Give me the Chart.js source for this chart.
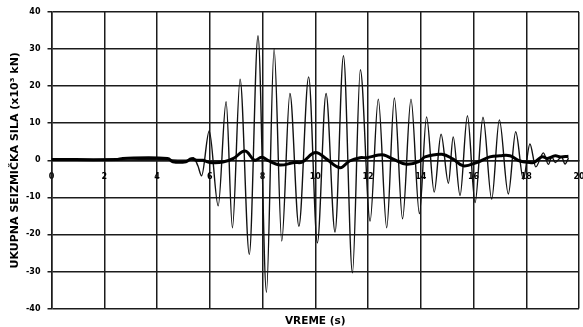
<!DOCTYPE html>
<html>
<head>
<meta charset="utf-8">
<script src="https://cdn.jsdelivr.net/npm/chart.js@4"></script>
<style>
  html,body{margin:0;padding:0;background:#fff;}
  #wrap{width:583px;height:327px;position:relative;}
</style>
</head>
<body>
<div id="wrap"><canvas id="c" width="583" height="327"></canvas></div>
<script>
// Time (s) and force (x10^3 kN) for the oscillating (thin) series
const timeThin = [0, 2, 4, 5.2, 5.38, 5.55, 5.69, 5.98, 6.32, 6.62, 6.86, 7.15, 7.5, 7.83, 8.15, 8.44, 8.73, 9.04, 9.38, 9.75, 10.08, 10.41, 10.75, 11.07, 11.41, 11.71, 12.08, 12.39, 12.71, 13.0, 13.31, 13.63, 13.95, 14.22, 14.51, 14.77, 15.05, 15.23, 15.49, 15.77, 16.06, 16.36, 16.69, 16.98, 17.32, 17.6, 17.89, 18.14, 18.36, 18.65, 18.84, 18.97, 19.1, 19.34, 19.47, 19.6];
const forceThin = [0, 0, 0.2, 0, 0.7, -1.5, -4.2, 7.9, -12.3, 15.8, -18.2, 21.9, -25.4, 33.6, -35.6, 30, -21.8, 18, -17.8, 22.5, -22.3, 18, -19.4, 28.2, -30.4, 24.4, -16.4, 16.5, -18.2, 16.8, -15.8, 16.5, -14.4, 11.7, -8.6, 7, -6.2, 6.3, -9.5, 12, -11.4, 11.6, -10.5, 10.9, -9.1, 7.7, -5.1, 4.4, -1.8, 2, -1.1, 0.9, -0.6, 0.9, -1, 0.6];

// Time (s) and force (x10^3 kN) for the smooth (thick) series
const timeThick = [0, 2.5, 2.7, 4.4, 4.6, 5.1, 5.3, 5.5, 5.75, 6.0, 6.5, 6.9, 7.34, 7.7, 7.97, 8.25, 8.66, 9.2, 9.5, 10.0, 10.43, 10.94, 11.3, 11.7, 11.95, 12.4, 12.6, 12.96, 13.47, 13.97, 14.16, 14.8, 15.23, 15.61, 16.12, 16.62, 17.0, 17.38, 17.76, 18.14, 18.3, 18.6, 18.8, 19.1, 19.3, 19.6];
const forceThick = [0.2, 0.2, 0.5, 0.5, -0.4, -0.4, 0.4, 0, 0, -0.6, -0.5, 0.5, 2.5, 0, 0.8, -0.2, -1.3, -0.6, -0.5, 2.1, 0.3, -2, -0.2, 0.7, 0.7, 1.4, 1.4, 0.3, -1.1, -0.2, 0.9, 1.6, 0.3, -1.5, -0.6, 0.9, 1.2, 1.2, -0.2, -0.6, -0.6, 0.9, 0.5, 1.2, 0.9, 1.1];

// Axis ticks
const xTicks = [0, 2, 4, 6, 8, 10, 12, 14, 16, 18, 20];
const yTicks = [-40, -30, -20, -10, 0, 10, 20, 30, 40];

const xTitle = 'VREME (s)';
const yTitle = 'UKUPNA SEIZMIČKA SILA (x10³ kN)';

const FONT = '"DejaVu Sans", Verdana, sans-serif';
const GRID = '#1c1c1c';

const toPts = (xs, ys) => xs.map((x, i) => ({x: x, y: ys[i]}));
const noSidePad = (s) => { s.paddingLeft = 0; s.paddingRight = 0; };

new Chart(document.getElementById('c'), {
  type: 'line',
  data: {
    datasets: [
      {
        data: toPts(timeThick, forceThick),
        borderColor: '#000',
        borderWidth: 3,
        pointRadius: 0,
        tension: 0.4,
        fill: false
      },
      {
        data: toPts(timeThin, forceThin),
        borderColor: '#111',
        borderWidth: 1.4,
        pointRadius: 0,
        cubicInterpolationMode: 'monotone',
        fill: false
      }
    ]
  },
  options: {
    responsive: false,
    animation: false,
    devicePixelRatio: 1,
    layout: {padding: {top: 12, right: 4, bottom: 0, left: 0}},
    plugins: {legend: {display: false}, tooltip: {enabled: false}},
    scales: {
      x: {
        type: 'linear',
        position: {y: 0},
        min: 0, max: 20,
        afterBuildTicks: (s) => { s.ticks = xTicks.map(v => ({value: v})); },
        afterFit: noSidePad,
        grid: {color: GRID, lineWidth: 1.5, drawTicks: false},
        border: {display: true, color: GRID, width: 1.5},
        ticks: {
          color: '#000', padding: 12, maxRotation: 0, autoSkip: false,
          font: {family: FONT, size: 8, weight: 'bold'}
        }
      },
      xb: {
        type: 'linear',
        position: 'bottom',
        min: 0, max: 20,
        grid: {display: false},
        border: {display: false},
        ticks: {display: false},
        afterFit: (s) => { s.height = 18.5; noSidePad(s); },
        title: {
          display: true, text: xTitle, color: '#000',
          padding: {top: 0, bottom: 0},
          font: {family: FONT, size: 10.5, weight: 'bold', lineHeight: 1}
        }
      },
      y: {
        type: 'linear',
        min: -40, max: 40,
        afterBuildTicks: (s) => { s.ticks = yTicks.map(v => ({value: v})); },
        afterFit: (s) => { s.width = 51.5; },
        grid: {color: GRID, lineWidth: 1.5, tickLength: 4, drawTicks: true},
        border: {display: true, color: GRID, width: 1.5},
        ticks: {
          color: '#000', padding: 7,
          font: {family: FONT, size: 8, weight: 'bold'}
        },
        title: {
          display: true, text: yTitle, color: '#000',
          padding: {top: 9.5, bottom: 0},
          font: {family: FONT, size: 11, weight: 'bold', lineHeight: 1}
        }
      }
    }
  }
});
</script>
</body>
</html>
